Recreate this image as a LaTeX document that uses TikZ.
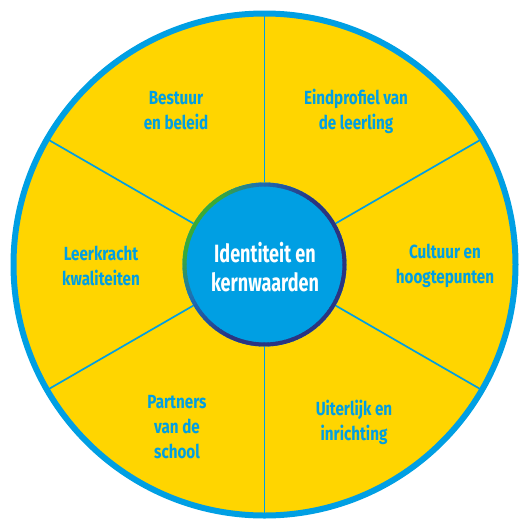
\documentclass[tikz,border=0pt]{standalone}
\usepackage{fontspec}
\usetikzlibrary{calc}
\setmainfont{Fira Sans}[FakeStretch=0.8]
\newfontfamily\corefont{Fira Sans}[FakeStretch=0.72]
\definecolor{wheelyellow}{HTML}{FFD500}
\definecolor{wheelblue}{HTML}{009FE3}
\definecolor{ringgreen}{HTML}{3AAA35}
\definecolor{ringmid}{HTML}{1D6FB5}
\definecolor{ringnavy}{HTML}{2B3480}
\tikzset{
  seglabel/.style={text=wheelblue, font=\fontsize{19}{25}\selectfont\bfseries, align=center, inner sep=0pt},
  spoke/.style={draw=wheelblue, line width=1.7pt},
}
\begin{document}
\begin{tikzpicture}[x=1pt,y=-1pt]
\useasboundingbox (0,0) rectangle (520,520);
\coordinate (c) at (264.5,264.5);
\draw[wheelblue, line width=6pt, fill=wheelyellow] (c) circle (251);
\foreach \n/\a in {o1/90,o2/30,o3/-30,o4/-90,o5/-150,o6/150}{
  \coordinate (\n) at ($(c)+(\a:249)$);
}
\node[circle, minimum size=164pt, inner sep=0pt, fill=wheelblue] (core) at (c) {};
\foreach \n in {o1,o2,o3,o4,o5,o6}{
  \draw[spoke] (core) -- (\n);
}
\foreach \a in {0,3,...,357}{
  \pgfmathtruncatemacro\d{abs(mod(\a-210+540,360)-180)}
  \pgfmathtruncatemacro\p{max(0,min(100,(\d-25)*100/30))}
  \pgfmathtruncatemacro\q{max(0,min(100,(\d-55)*100/40))}
  \colorlet{tmpa}{ringmid!\p!ringgreen}
  \colorlet{tmpb}{ringnavy!\q!tmpa}
  \draw[line width=4pt, tmpb] ($(c)+(\a:80)$) arc[start angle=\a, end angle=\a+3.6, radius=80];
}
\node[text=white, font=\corefont\fontsize{25}{29}\selectfont\bfseries, align=center, inner sep=0pt] (coretext) at (265,267.5) {Identiteit en\\kernwaarden};
\node[seglabel] (s1) at (176,111) {Bestuur\\en beleid};
\node[seglabel] (s2) at (356,111) {Eindprofiel van\\de leerling};
\node[seglabel] (s3) at (101,266) {Leerkracht\\kwaliteiten};
\node[seglabel] (s4) at (445,266) {Cultuur en\\hoogtepunten};
\node[seglabel] (s5) at (177,427) {Partners\\van de\\school};
\node[seglabel] (s6) at (354,422) {Uiterlijk en\\inrichting};
\end{tikzpicture}
\end{document}
